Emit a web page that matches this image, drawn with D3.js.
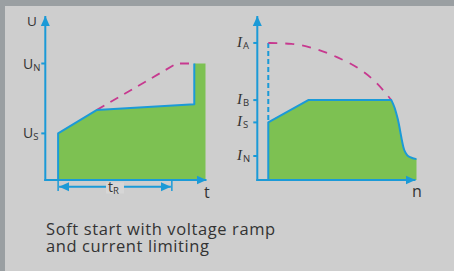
<!DOCTYPE html>
<html>
<head>
<meta charset="utf-8">
<script src="https://cdn.jsdelivr.net/npm/d3@7"></script>
<style>
  body { margin: 0; background: #9a9fa2; }
  svg { display: block; }
</style>
</head>
<body>
<div id="chart"></div>
<script>
// DATA

// left panel: voltage U over time t (t in % of axis, U in multiples of UN)
var voltageT = [8, 8, 32, 93, 93, 100];
var voltageU = [0, 0.40, 0.60, 0.65, 1.0, 1.0];
var rampT = [32, 82, 93];
var rampU = [0.60, 1.0, 1.0];
var uTicks = [{ main: "U", sub: "N", v: 1.0 }, { main: "U", sub: "S", v: 0.40 }];
var tR = [8, 79];

// right panel: current I over speed n (n in % of axis, I in multiples of IN)
var limitN = [6.9, 6.9, 32, 84.2];
var limitI = [0, 2.4, 3.33, 3.33];
var tailN = [84.2, 86.3, 88.2, 92.3, 94, 96, 100];
var tailI = [3.33, 3.0, 2.55, 1.25, 1.05, 0.95, 0.87];
var directN = [6.9, 21.5, 36.1, 50, 63.1, 74, 81.9, 84.2];
var directI = [5.71, 5.67, 5.47, 5.12, 4.67, 4.1, 3.52, 3.33];
var iTicks = [
  { main: "I", sub: "A", v: 5.71 },
  { main: "I", sub: "B", v: 3.33 },
  { main: "I", sub: "S", v: 2.4 },
  { main: "I", sub: "N", v: 1.0 }
];

var caption = ["Soft start with voltage ramp", "and current limiting"];

// STYLE
var blue = "#1b9ad7",
  green = "#7dc152",
  magenta = "#c7398f",
  ink = "#333333";

var W = 454, H = 271;

const svg = d3.select("#chart").append("svg").attr("width", W).attr("height", H);

svg.append("rect")
  .attr("x", 5).attr("y", 6)
  .attr("width", W - 5).attr("height", H - 6)
  .attr("fill", "#cecece");

var defs = svg.append("defs");
defs.append("marker")
  .attr("id", "arrow")
  .attr("viewBox", "0 0 10 10")
  .attr("refX", 10).attr("refY", 5)
  .attr("markerWidth", 10).attr("markerHeight", 10)
  .attr("markerUnits", "userSpaceOnUse")
  .attr("orient", "auto-start-reverse")
  .append("path")
  .attr("d", "M0,0.5 L10,5 L0,9.5 Z")
  .attr("fill", blue);

// scales
var xL = d3.scaleLinear().domain([0, 100]).range([45.3, 205.5]);
var yL = d3.scaleLinear().domain([0, 1]).range([180, 63.5]);
var xR = d3.scaleLinear().domain([0, 100]).range([257.3, 416.5]);
var yR = d3.scaleLinear().domain([0, 1]).range([180, 156]);

function zip(a, b) {
  return a.map(function (d, i) { return [d, b[i]]; });
}

// LEFT PANEL
var gL = svg.append("g");
var lineL = d3.line().x(function (d) { return xL(d[0]); }).y(function (d) { return yL(d[1]); });
var areaL = d3.area()
  .x(function (d) { return xL(d[0]); })
  .y0(yL(0))
  .y1(function (d) { return yL(d[1]); });

var vPts = zip(voltageT, voltageU);
gL.append("path").attr("d", areaL(vPts)).attr("fill", green);

gL.append("path")
  .attr("d", lineL(zip(rampT, rampU)))
  .attr("fill", "none")
  .attr("stroke", magenta)
  .attr("stroke-width", 1.8)
  .attr("stroke-dasharray", "9,7");

gL.append("path")
  .attr("d", lineL(vPts.slice(0, 5)))
  .attr("fill", "none")
  .attr("stroke", blue)
  .attr("stroke-width", 2)
  .attr("stroke-linejoin", "round");

// axes
gL.append("line")
  .attr("x1", xL(0)).attr("y1", yL(0) + 1)
  .attr("x2", xL(0)).attr("y2", 16)
  .attr("stroke", blue).attr("stroke-width", 2)
  .attr("marker-end", "url(#arrow)");
gL.append("line")
  .attr("x1", xL(0) - 1).attr("y1", yL(0))
  .attr("x2", xL(100) + 1).attr("y2", yL(0))
  .attr("stroke", blue).attr("stroke-width", 2)
  .attr("marker-end", "url(#arrow)");

gL.selectAll(".tick")
  .data(uTicks)
  .enter()
  .append("line")
  .attr("x1", xL(0) - 4).attr("x2", xL(0))
  .attr("y1", function (d) { return yL(d.v); })
  .attr("y2", function (d) { return yL(d.v); })
  .attr("stroke", blue).attr("stroke-width", 2);

var uLab = gL.selectAll(".ulab")
  .data(uTicks)
  .enter()
  .append("text")
  .attr("x", 23)
  .attr("y", function (d) { return yL(d.v) + 5; })
  .attr("font-family", "Open Sans, sans-serif")
  .attr("font-size", 14)
  .attr("fill", ink);
uLab.append("tspan").text(function (d) { return d.main; });
uLab.append("tspan").attr("font-size", 9.5).attr("dy", 2).text(function (d) { return d.sub; });

gL.append("text")
  .attr("x", 27).attr("y", 26)
  .attr("font-family", "Open Sans, sans-serif")
  .attr("font-size", 13.5)
  .attr("fill", ink)
  .text("U");

gL.append("text")
  .attr("x", 204).attr("y", 198)
  .attr("font-family", "Open Sans, sans-serif")
  .attr("font-size", 16)
  .attr("fill", ink)
  .text("t");

// tR dimension
[tR[0], tR[1]].forEach(function (t) {
  gL.append("line")
    .attr("x1", xL(t)).attr("x2", xL(t))
    .attr("y1", 180).attr("y2", 191)
    .attr("stroke", blue).attr("stroke-width", 1.5);
});
gL.append("line")
  .attr("x1", xL(tR[0]) + 1).attr("x2", xL(tR[1]) - 1)
  .attr("y1", 186.8).attr("y2", 186.8)
  .attr("stroke", blue).attr("stroke-width", 2)
  .attr("marker-start", "url(#arrow)")
  .attr("marker-end", "url(#arrow)");
var tMid = (xL(tR[0]) + xL(tR[1])) / 2;
gL.append("rect")
  .attr("x", tMid - 9).attr("y", 182.5)
  .attr("width", 18).attr("height", 11)
  .attr("fill", "#d6d6d6");
var tLab = gL.append("text")
  .attr("x", tMid - 7).attr("y", 192)
  .attr("font-family", "Open Sans, sans-serif")
  .attr("font-size", 14)
  .attr("fill", ink);
tLab.append("tspan").text("t");
tLab.append("tspan").attr("font-size", 9.5).attr("dy", 2).text("R");

// RIGHT PANEL
var gR = svg.append("g");
var lineR = d3.line().x(function (d) { return xR(d[0]); }).y(function (d) { return yR(d[1]); });
var curvedR = d3.line().curve(d3.curveMonotoneX)
  .x(function (d) { return xR(d[0]); }).y(function (d) { return yR(d[1]); });

var limPts = zip(limitN, limitI);
var tailPts = zip(tailN, tailI);
var outline = lineR(limPts) + curvedR(tailPts).replace(/^M[^A-Z]*/, "");

gR.append("path")
  .attr("d", outline +
    "L" + xR(tailN[tailN.length - 1]) + "," + yR(0) +
    "L" + xR(limitN[0]) + "," + yR(0) + "Z")
  .attr("fill", green);

// starting current without limiting
gR.append("line")
  .attr("x1", xR(limitN[0])).attr("x2", xR(limitN[0]))
  .attr("y1", yR(directI[0])).attr("y2", yR(limitI[1]))
  .attr("stroke", blue).attr("stroke-width", 2)
  .attr("stroke-dasharray", "5,3");
gR.append("path")
  .attr("d", curvedR(zip(directN, directI)))
  .attr("fill", "none")
  .attr("stroke", magenta)
  .attr("stroke-width", 1.8)
  .attr("stroke-dasharray", "9,8");

gR.append("path")
  .attr("d", outline)
  .attr("fill", "none")
  .attr("stroke", blue)
  .attr("stroke-width", 2)
  .attr("stroke-linejoin", "round");

gR.append("line")
  .attr("x1", xR(0)).attr("y1", yR(0) + 1)
  .attr("x2", xR(0)).attr("y2", 16)
  .attr("stroke", blue).attr("stroke-width", 2)
  .attr("marker-end", "url(#arrow)");
gR.append("line")
  .attr("x1", xR(0) - 1).attr("y1", yR(0))
  .attr("x2", xR(100) - 1).attr("y2", yR(0))
  .attr("stroke", blue).attr("stroke-width", 2)
  .attr("marker-end", "url(#arrow)");

gR.selectAll(".tick")
  .data(iTicks)
  .enter()
  .append("line")
  .attr("x1", xR(0) - 4).attr("x2", xR(0))
  .attr("y1", function (d) { return yR(d.v); })
  .attr("y2", function (d) { return yR(d.v); })
  .attr("stroke", blue).attr("stroke-width", 2);

var iLab = gR.selectAll(".ilab")
  .data(iTicks)
  .enter()
  .append("text")
  .attr("x", 237)
  .attr("y", function (d) { return yR(d.v) + 4; })
  .attr("fill", ink);
iLab.append("tspan")
  .attr("font-family", "Liberation Serif, serif")
  .attr("font-style", "italic")
  .attr("font-size", 15)
  .text(function (d) { return d.main; });
iLab.append("tspan")
  .attr("font-family", "Open Sans, sans-serif")
  .attr("font-size", 9.5)
  .attr("dx", 1)
  .attr("dy", 2)
  .text(function (d) { return d.sub; });

gR.append("text")
  .attr("x", 412).attr("y", 197)
  .attr("font-family", "Open Sans, sans-serif")
  .attr("font-size", 16)
  .attr("fill", ink)
  .text("n");

// CAPTION
svg.append("text")
  .attr("font-family", "Open Sans, sans-serif")
  .attr("font-size", 16.5)
  .attr("letter-spacing", 0.6)
  .attr("fill", ink)
  .selectAll("tspan")
  .data(caption)
  .enter()
  .append("tspan")
  .attr("x", 46)
  .attr("y", function (d, i) { return 234.5 + i * 17; })
  .text(function (d) { return d; });
</script>
</body>
</html>
